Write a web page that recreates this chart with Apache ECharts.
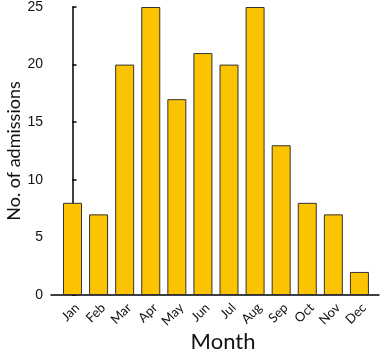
<!DOCTYPE html>
<html><head><meta charset="utf-8">
<script src="https://cdn.jsdelivr.net/npm/echarts@6/dist/echarts.min.js"></script>
<style>html,body{margin:0;padding:0;background:#fff}#c{width:380px;height:356px}</style>
</head><body><div id="c"></div>
<script>
const months = ['Jan','Feb','Mar','Apr','May','Jun','Jul','Aug','Sep','Oct','Nov','Dec'];
const admissions = [8, 7, 20, 25, 17, 21, 20, 25, 13, 8, 7, 2];
const yTicks = [0, 5, 10, 15, 20, 25];

const positions = months.map((m, i) => i);
const chart = echarts.init(document.getElementById('c'), null, {renderer: 'canvas'});
chart.setOption({
  animation: false,
  grid: {left: 51, right: 1, top: 7, bottom: 61, containLabel: false, outerBoundsMode: 'none'},
  xAxis: {
    type: 'value', min: -0.824, max: 11.75,
    name: 'Month', nameLocation: 'middle', nameGap: 36, nameMoveOverlap: false,
    nameTextStyle: {fontSize: 22, color: '#111', fontFamily: 'Lato', padding: [0, 0, 0, 16]},
    axisLine: {show: true, lineStyle: {color: '#000', width: 1.5}},
    axisTick: {show: false},
    splitLine: {show: false},
    axisLabel: {
      customValues: positions,
      formatter: v => months[Math.round(v)],
      rotate: 45, fontSize: 13, color: '#111', fontFamily: 'Lato', margin: 6,
      verticalAlign: 'top'
    }
  },
  yAxis: {
    type: 'value', min: 0, max: 25, interval: 5,
    name: 'No. of admissions', nameLocation: 'middle', nameGap: 28, nameMoveOverlap: false,
    nameTextStyle: {fontSize: 18, color: '#111', fontFamily: 'Lato'},
    axisLine: {show: true, lineStyle: {color: '#000', width: 1.5}},
    axisTick: {show: true, inside: true, length: 4, lineStyle: {color: '#000', width: 1.5}},
    splitLine: {show: false},
    axisLabel: {fontSize: 14, color: '#111', fontFamily: 'Liberation Sans', margin: 8,
      customValues: yTicks}
  },
  series: [{
    type: 'bar',
    data: months.map((m, i) => [positions[i], admissions[i]]),
    barWidth: 19,
    itemStyle: {color: '#FCC300', borderColor: '#333', borderWidth: 1}
  }]
});
</script></body></html>
